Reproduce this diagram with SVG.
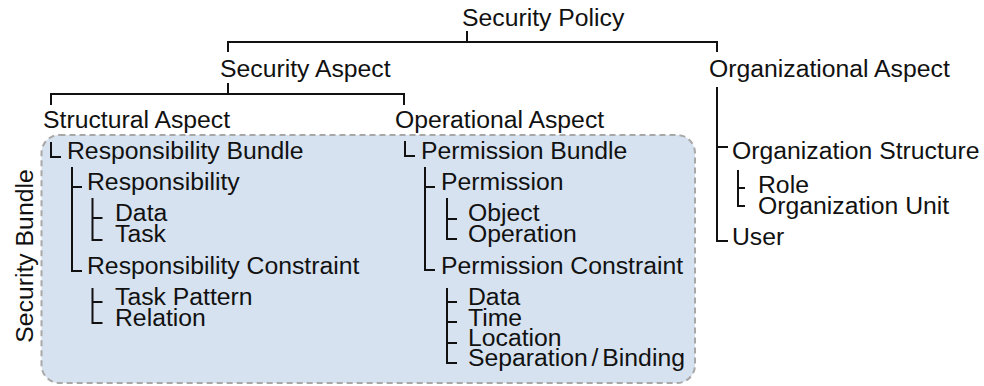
<svg xmlns="http://www.w3.org/2000/svg" width="984" height="386" viewBox="0 0 984 386">
<style>
text{font-family:"Liberation Sans",Arial,Helvetica,sans-serif;font-size:24.75px;fill:#111}
.conn path{fill:none;stroke:#111;stroke-width:2}
.bundle{fill:#d6e2ef;stroke:#a8a8a8;stroke-width:2;stroke-dasharray:6 4}
</style>
<rect width="984" height="386" fill="#fff"/>
<g id="security-bundle">
<rect class="bundle" x="41.5" y="135" width="653.5" height="248" rx="18" ry="18"/>
<text transform="translate(33,256) rotate(-90)" text-anchor="middle">Security Bundle</text>
</g>
<g class="conn" id="connectors">
<path d="M467,31 V42 M228,52 V42 H717 V52"/>
<path d="M228,83 V94 M51,105 V94 H404 V105"/>
<path d="M717,87 V241 H728 M717,147 H728"/>
<path d="M738,170 V206 H745 M738,188 H745"/>
<path d="M51,142 V157 H61"/>
<path d="M72,167 V271 H82 M72,187 H82"/>
<path d="M92.5,198 V240 H102.5 M92.5,218 H102.5"/>
<path d="M92.5,288 V323 H102.5 M92.5,302 H102.5"/>
<path d="M405,141 V156 H415"/>
<path d="M425,167 V270 H435 M425,187 H435"/>
<path d="M447,198 V239 H457 M447,219 H457"/>
<path d="M447,288 V363 H457 M447,302 H457 M447,322 H457 M447,343 H457"/>
</g>
<g id="security-policy"><text x="462" y="26">Security Policy</text></g>
<g id="security-aspect"><text x="220" y="77">Security Aspect</text></g>
<g id="organizational-aspect"><text x="709" y="77">Organizational Aspect</text></g>
<g id="structural-aspect"><text x="43" y="128">Structural Aspect</text></g>
<g id="operational-aspect"><text x="395" y="128">Operational Aspect</text></g>
<g id="responsibility-bundle"><text x="67" y="159">Responsibility Bundle</text></g>
<g id="responsibility"><text x="87" y="190">Responsibility</text></g>
<g id="resp-data"><text x="115" y="221">Data</text></g>
<g id="resp-task"><text x="115" y="242">Task</text></g>
<g id="responsibility-constraint"><text x="87" y="274">Responsibility Constraint</text></g>
<g id="task-pattern"><text x="115" y="305">Task Pattern</text></g>
<g id="relation"><text x="115" y="326">Relation</text></g>
<g id="permission-bundle"><text x="421" y="159">Permission Bundle</text></g>
<g id="permission"><text x="441" y="190">Permission</text></g>
<g id="object"><text x="468" y="221">Object</text></g>
<g id="operation"><text x="468" y="242">Operation</text></g>
<g id="permission-constraint"><text x="441" y="274">Permission Constraint</text></g>
<g id="perm-data"><text x="468" y="305">Data</text></g>
<g id="time"><text x="468" y="326">Time</text></g>
<g id="location"><text x="468" y="346">Location</text></g>
<g id="separation-binding"><text x="468" y="366" word-spacing="-3">Separation / Binding</text></g>
<g id="organization-structure"><text x="732" y="159">Organization Structure</text></g>
<g id="role"><text x="758" y="193">Role</text></g>
<g id="organization-unit"><text x="758" y="214">Organization Unit</text></g>
<g id="user"><text x="732" y="245">User</text></g>
</svg>
